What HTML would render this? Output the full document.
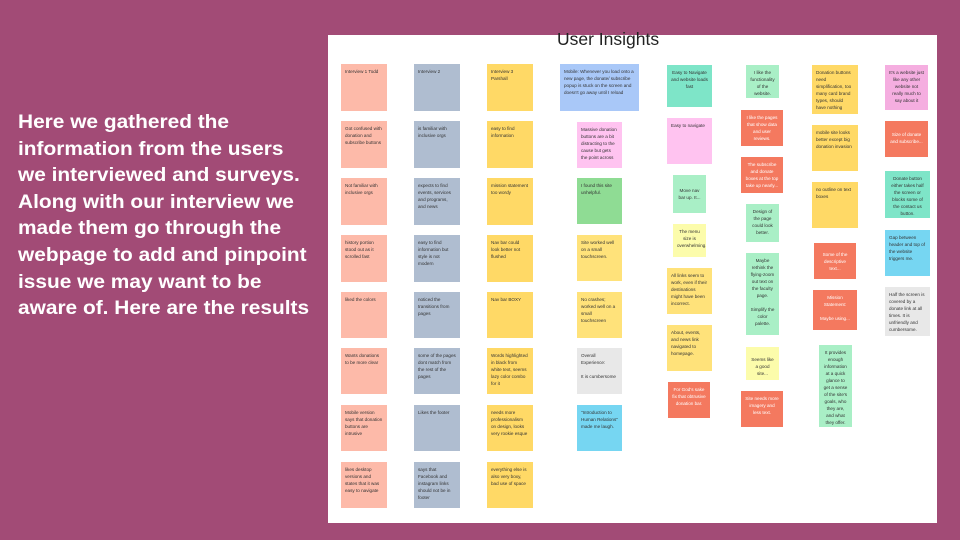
<!DOCTYPE html>
<html><head><meta charset="utf-8"><style>
*{margin:0;padding:0;box-sizing:border-box}
body{width:960px;height:540px;background:#a24b76;position:relative;overflow:hidden;font-family:"Liberation Sans",sans-serif}
.txt{position:absolute;left:18px;top:109px;color:#fff;font-weight:bold;font-size:19.5px;line-height:26.6px;white-space:nowrap;transform:scaleX(1.07);transform-origin:0 0}
.panel{position:absolute;left:328px;top:35px;width:609px;height:488px;background:#fff}
.title{position:absolute;left:557px;top:29px;font-size:17.5px;color:#222;white-space:nowrap}
.s{position:absolute;font-size:4.6px;line-height:7px;color:#333;padding:4px;overflow:hidden}
.c{text-align:center}
.w{color:#fff}
.p{background:#fdbaa9}.g{background:#afbdd0}.y{background:#ffd966}
.b{background:#a9c8f8}.pk{background:#ffc3f0}.gr{background:#8fdc94}.ly{background:#ffe27a}
.gy{background:#e8e8e8}.cy{background:#76d6f2}.tl{background:#7ee5c8}.lg{background:#a9efc6}
.yy{background:#fcfcab}.r{background:#f4795f}.pp{background:#f5aee0}
</style></head><body>
<div class="txt">Here we gathered the<br>information from the users<br>we interviewed and surveys.<br>Along with our interview we<br>made them go through the<br>webpage to add and pinpoint<br>issue we may want to be<br>aware of. Here are the results</div>
<div class="panel"></div>
<div class="title">User Insights</div>

<div class="s p" style="left:341px;top:64px;width:46px;height:47px">Interview 1 Todd</div>
<div class="s p" style="left:341px;top:121px;width:46px;height:47px">Got confused with donation and subscribe buttons</div>
<div class="s p" style="left:341px;top:178px;width:46px;height:47px">Not familiar with inclusive orgs</div>
<div class="s p" style="left:341px;top:235px;width:46px;height:47px">history portion stood out as it scrolled fast</div>
<div class="s p" style="left:341px;top:292px;width:46px;height:46px">liked the colors</div>
<div class="s p" style="left:341px;top:348px;width:46px;height:46px">Wants donations to be more clear</div>
<div class="s p" style="left:341px;top:405px;width:46px;height:46px">Mobile version says that donation buttons are intrusive</div>
<div class="s p" style="left:341px;top:462px;width:46px;height:46px">likes desktop versions and states that it was easy to navigate</div>

<div class="s g" style="left:414px;top:64px;width:46px;height:47px">Interview 2</div>
<div class="s g" style="left:414px;top:121px;width:46px;height:47px">is familiar with inclusive orgs</div>
<div class="s g" style="left:414px;top:178px;width:46px;height:47px">expects to find events, services and programs, and news</div>
<div class="s g" style="left:414px;top:235px;width:46px;height:47px">easy to find information but style is not modern</div>
<div class="s g" style="left:414px;top:292px;width:46px;height:46px">noticed the transitions from pages</div>
<div class="s g" style="left:414px;top:348px;width:46px;height:46px">some of the pages dont match from the rest of the pages</div>
<div class="s g" style="left:414px;top:405px;width:46px;height:46px">Likes the footer</div>
<div class="s g" style="left:414px;top:462px;width:46px;height:46px">says that Facebook and instagram links should not be in footer</div>

<div class="s y" style="left:487px;top:64px;width:46px;height:47px">Interview 3 Parshall</div>
<div class="s y" style="left:487px;top:121px;width:46px;height:47px">easy to find information</div>
<div class="s y" style="left:487px;top:178px;width:46px;height:47px">mission statement too wordy</div>
<div class="s y" style="left:487px;top:235px;width:46px;height:47px">Nav bar could look better not flushed</div>
<div class="s y" style="left:487px;top:292px;width:46px;height:46px">Nav bar BOXY</div>
<div class="s y" style="left:487px;top:348px;width:46px;height:46px">Words highlighted in black from white text, seems lazy color combo for it</div>
<div class="s y" style="left:487px;top:405px;width:46px;height:46px">needs more professionalism on design, looks very rookie esque</div>
<div class="s y" style="left:487px;top:462px;width:46px;height:46px">everything else is also very boxy, bad use of space</div>

<div class="s b" style="left:560px;top:64px;width:79px;height:47px">Mobile: Whenever you load onto a new page, the donate/ subscribe popup is stuck on the screen and doesn't go away until I reload</div>
<div class="s pk" style="left:577px;top:122px;width:45px;height:46px">Massive donation buttons are a bit distracting to the cause but gets the point across</div>
<div class="s gr" style="left:577px;top:178px;width:45px;height:46px">I found this site unhelpful.</div>
<div class="s ly" style="left:577px;top:235px;width:45px;height:46px">Site worked well on a small touchscreen.</div>
<div class="s ly" style="left:577px;top:292px;width:45px;height:46px">No crashes; worked well on a small touchscreen</div>
<div class="s gy" style="left:577px;top:348px;width:45px;height:46px">Overall Experience:<br><br>It is cumbersome</div>
<div class="s cy" style="left:577px;top:405px;width:45px;height:46px">"Introduction to Human Relations" made me laugh.</div>

<div class="s tl c" style="left:667px;top:65px;width:45px;height:42px">Easy to Navigate and website loads fast</div>
<div class="s pk" style="left:667px;top:118px;width:45px;height:46px">Easy to navigate</div>
<div class="s lg c" style="left:673px;top:175px;width:33px;height:38px;padding-top:12px">Move nav bar up. It...</div>
<div class="s yy c" style="left:673px;top:224px;width:33px;height:33px">The menu size is overwhelming.</div>
<div class="s ly" style="left:667px;top:268px;width:45px;height:46px">All links seem to work, even if their destinations might have been incorrect.</div>
<div class="s ly" style="left:667px;top:325px;width:45px;height:46px">About, events, and news link navigated to homepage.</div>
<div class="s r c w" style="left:668px;top:382px;width:42px;height:36px">For God's sake fix that obtrusive donation bar.</div>

<div class="s lg c" style="left:746px;top:65px;width:33px;height:33px">I like the functionality of the website.</div>
<div class="s r c w" style="left:741px;top:110px;width:42px;height:36px">I like the pages that show data and user reviews.</div>
<div class="s r c w" style="left:741px;top:157px;width:42px;height:36px">The subscribe and donate boxes at the top take up nearly...</div>
<div class="s lg c" style="left:746px;top:204px;width:33px;height:38px">Design of the page could look better.</div>
<div class="s lg c" style="left:746px;top:253px;width:33px;height:82px">Maybe rethink the flying-zoom out text on the faculty page.<br><br>Simplify the color palette.</div>
<div class="s yy c" style="left:746px;top:347px;width:33px;height:33px;padding-top:9px">Seems like a good site...</div>
<div class="s r c w" style="left:741px;top:391px;width:42px;height:36px">Site needs more imagery and less text.</div>

<div class="s y" style="left:812px;top:65px;width:46px;height:49px">Donation buttons need simplification, too many card brand types, should have nothing</div>
<div class="s y" style="left:812px;top:125px;width:46px;height:46px">mobile site looks better except big donation invasion</div>
<div class="s y" style="left:812px;top:182px;width:46px;height:46px">no outline on text boxes</div>
<div class="s r c w" style="left:814px;top:243px;width:42px;height:36px;padding-top:8px">Some of the descriptive text...</div>
<div class="s r c w" style="left:813px;top:290px;width:44px;height:40px">Mission Statement:<br><br>Maybe using...</div>
<div class="s lg c" style="left:819px;top:345px;width:33px;height:82px">It provides enough information at a quick glance to get a sense of the site's goals, who they are, and what they offer.</div>

<div class="s pp c" style="left:885px;top:65px;width:43px;height:45px">It's a website just like any other website not really much to say about it</div>
<div class="s r c w" style="left:885px;top:121px;width:43px;height:36px;padding-top:10px">Size of donate and subscribe...</div>
<div class="s tl c" style="left:885px;top:171px;width:45px;height:47px">Donate button either takes half the screen or blocks some of the contact us button.</div>
<div class="s cy" style="left:885px;top:230px;width:45px;height:46px">Gap between header and top of the website triggers me.</div>
<div class="s gy" style="left:885px;top:287px;width:45px;height:49px">Half the screen is covered by a donate link at all times. It is unfriendly and cumbersome.</div>
</body></html>
